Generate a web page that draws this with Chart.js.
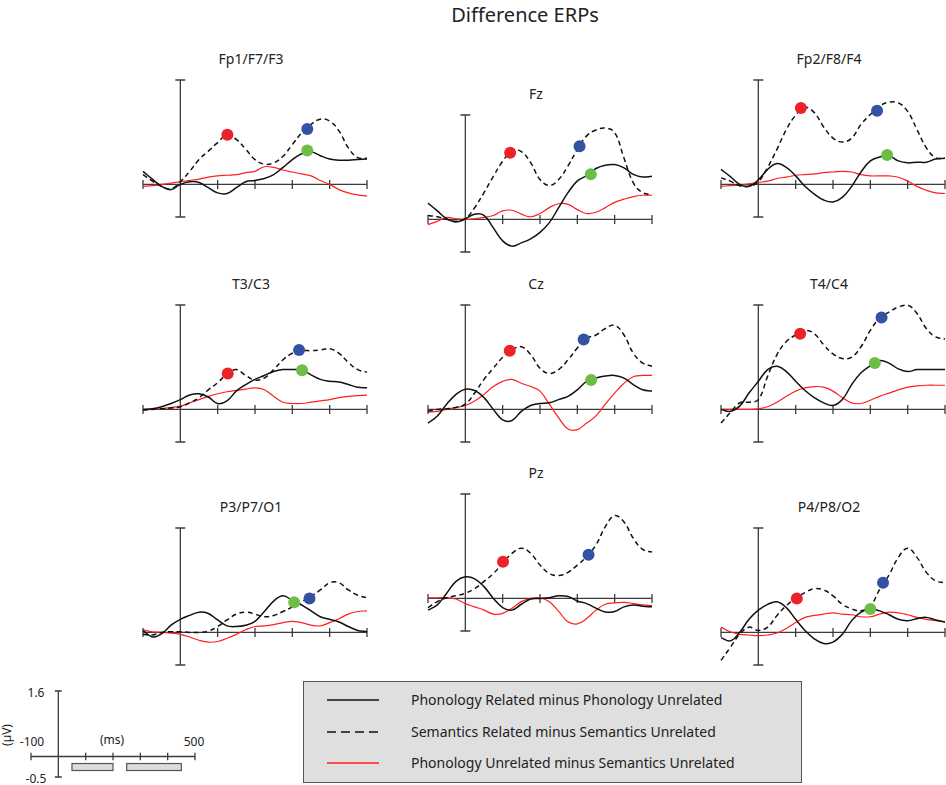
<!DOCTYPE html>
<html>
<head>
<meta charset="utf-8">
<script src="https://cdn.jsdelivr.net/npm/chart.js@4.4.0/dist/chart.umd.min.js"></script>
<style>
  body { margin: 0; background: #fff; font-family: "Noto Sans", sans-serif; color: #222; }
  #page { position: relative; width: 946px; height: 785px; overflow: hidden; }
  canvas { position: absolute; }
  .lbl { position: absolute; transform: translate(-50%, -50%); white-space: nowrap; }
  .title { font-size: 20px; }
  .ptitle { font-size: 14px; }
  .small { font-size: 12px; }
  #legend { position: absolute; left: 303px; top: 681px; width: 499px; height: 102px;
            background: #dfdfdf; border: 1px solid #555; box-sizing: border-box; }
  #legend .row { position: absolute; left: 0; height: 20px; font-size: 14px; }
  #legend svg { position: absolute; left: 23px; top: 4px; }
  #legend span { position: absolute; left: 107px; top: 0; line-height: 20px; white-space: nowrap; }
</style>
</head>
<body>
<div id="page">
  <div class="lbl title" style="left:525px; top:14px;">Difference ERPs</div>

  <div id="legend">
    <div class="row" style="top:8px;">
      <svg width="52" height="12"><line x1="0" y1="6" x2="52" y2="6" stroke="#111" stroke-width="1.6"/></svg>
      <span>Phonology Related minus Phonology Unrelated</span>
    </div>
    <div class="row" style="top:40px;">
      <svg width="52" height="12"><line x1="0" y1="6" x2="52" y2="6" stroke="#111" stroke-width="1.6" stroke-dasharray="9 5"/></svg>
      <span>Semantics Related minus Semantics Unrelated</span>
    </div>
    <div class="row" style="top:71px;">
      <svg width="52" height="12"><line x1="0" y1="6" x2="52" y2="6" stroke="#ff1f1f" stroke-width="1.4"/></svg>
      <span>Phonology Unrelated minus Semantics Unrelated</span>
    </div>
  </div>

  <div class="lbl small" style="left:36px; top:692px;">1.6</div>
  <div class="lbl small" style="left:36px; top:778px;">-0.5</div>
  <div class="lbl small" style="left:32px; top:741px;">-100</div>
  <div class="lbl small" style="left:112px; top:739px;">(ms)</div>
  <div class="lbl small" style="left:194px; top:741px;">500</div>
  <div class="lbl small" style="left:6px; top:735px; transform: translate(-50%, -50%) rotate(-90deg);">(µV)</div>
</div>

<script>
// time samples (ms) and axis ticks
const times = [-100, -75, -50, -25, 0, 25, 50, 75, 100, 125, 150, 175, 200,
               225, 250, 275, 300, 325, 350, 375, 400, 425, 450, 475, 500];
const timeTicks = [-100, 0, 100, 200, 300, 400, 500];
const voltMin = -0.5;
const voltMax = 1.6;
const analysisWindows = [[50, 200], [250, 450]];

// phon = Phonology Related minus Phonology Unrelated (solid)
// sem  = Semantics Related minus Semantics Unrelated (dashed)
// diff = Phonology Unrelated minus Semantics Unrelated (red)
const fp1Phon = [0.2, 0.08, -0.03, -0.08, 0, 0.04, 0.03, -0.05, -0.13, -0.14, -0.05, 0.04, 0.06, 0.09, 0.15, 0.26, 0.38, 0.47, 0.5, 0.44, 0.39, 0.37, 0.37, 0.38, 0.39];
const fp1Sem  = [0.15, 0.05, -0.03, -0.07, 0.04, 0.2, 0.38, 0.51, 0.64, 0.76, 0.69, 0.54, 0.38, 0.31, 0.33, 0.43, 0.61, 0.79, 0.92, 1.0, 0.97, 0.82, 0.56, 0.41, 0.4];
const fp1Diff = [-0.03, -0.02, 0, 0.02, 0.04, 0.06, 0.08, 0.11, 0.13, 0.14, 0.15, 0.18, 0.2, 0.27, 0.26, 0.22, 0.19, 0.16, 0.13, 0.06, 0, -0.08, -0.13, -0.16, -0.18];
const fp1DotT = [126, 340, 340];
const fp1DotV = [0.76, 0.85, 0.52];
const fp1DotKind = ['red', 'blue', 'green'];

const fzPhon = [0.25, 0.13, 0.01, -0.04, 0.01, 0.08, 0.06, -0.13, -0.33, -0.41, -0.36, -0.3, -0.2, -0.05, 0.18, 0.41, 0.59, 0.67, 0.78, 0.83, 0.84, 0.79, 0.69, 0.65, 0.66];
const fzSem  = [0.06, 0.04, 0, -0.03, 0.01, 0.18, 0.41, 0.66, 0.89, 1.05, 1.04, 0.87, 0.61, 0.52, 0.61, 0.82, 1.07, 1.28, 1.37, 1.4, 1.33, 0.94, 0.56, 0.41, 0.38];
const fzDiff = [-0.08, -0.03, 0.03, 0.01, 0, 0.01, 0.03, 0.06, 0.13, 0.14, 0.08, 0.04, 0.09, 0.18, 0.24, 0.23, 0.15, 0.09, 0.11, 0.18, 0.26, 0.31, 0.35, 0.37, 0.37];
const fzDotT = [120, 306, 336];
const fzDotV = [1.02, 1.12, 0.69];
const fzDotKind = ['red', 'blue', 'green'];

const fp2Phon = [0.23, 0.12, 0, -0.03, 0.07, 0.23, 0.32, 0.26, 0.13, -0.03, -0.15, -0.24, -0.27, -0.2, -0.03, 0.19, 0.36, 0.42, 0.44, 0.36, 0.33, 0.34, 0.34, 0.39, 0.4];
const fp2Sem  = [0.1, 0.05, -0.02, -0.03, 0.04, 0.26, 0.54, 0.84, 1.06, 1.18, 1.1, 0.88, 0.71, 0.65, 0.71, 0.92, 1.07, 1.2, 1.26, 1.25, 1.12, 0.84, 0.56, 0.41, 0.4];
const fp2Diff = [-0.03, -0.02, -0.01, 0.01, 0.03, 0.05, 0.09, 0.11, 0.14, 0.15, 0.16, 0.18, 0.19, 0.2, 0.19, 0.15, 0.13, 0.13, 0.13, 0.11, 0.05, -0.03, -0.09, -0.13, -0.14];
const fp2DotT = [114, 318, 345];
const fp2DotV = [1.17, 1.13, 0.45];
const fp2DotKind = ['red', 'blue', 'green'];

const t3Phon = [0, 0.01, 0.04, 0.09, 0.15, 0.22, 0.24, 0.19, 0.09, 0.13, 0.28, 0.38, 0.46, 0.52, 0.58, 0.61, 0.61, 0.6, 0.53, 0.46, 0.43, 0.42, 0.38, 0.34, 0.33];
const t3Sem  = [-0.01, 0, 0.01, 0.02, 0.04, 0.1, 0.18, 0.3, 0.41, 0.54, 0.61, 0.52, 0.45, 0.48, 0.61, 0.76, 0.86, 0.9, 0.9, 0.91, 0.93, 0.86, 0.72, 0.61, 0.57];
const t3Diff = [-0.01, 0, 0.01, 0.03, 0.05, 0.1, 0.15, 0.2, 0.24, 0.27, 0.29, 0.31, 0.33, 0.3, 0.2, 0.11, 0.09, 0.09, 0.11, 0.13, 0.15, 0.18, 0.2, 0.21, 0.22];
const t3DotT = [127, 318, 326];
const t3DotV = [0.55, 0.91, 0.6];
const t3DotKind = ['red', 'blue', 'green'];

const czPhon = [-0.21, -0.1, 0.08, 0.23, 0.31, 0.29, 0.18, 0, -0.16, -0.17, -0.03, 0.06, 0.09, 0.1, 0.15, 0.2, 0.3, 0.43, 0.48, 0.51, 0.52, 0.48, 0.38, 0.3, 0.28];
const czSem  = [-0.03, 0, 0.01, 0.03, 0.08, 0.25, 0.46, 0.63, 0.8, 0.91, 0.96, 0.84, 0.63, 0.55, 0.61, 0.76, 0.94, 1.09, 1.14, 1.24, 1.29, 1.14, 0.86, 0.71, 0.66];
const czDiff = [-0.04, -0.03, 0, 0.03, 0.06, 0.13, 0.23, 0.35, 0.43, 0.46, 0.4, 0.35, 0.28, 0.08, -0.13, -0.3, -0.31, -0.21, -0.1, 0.08, 0.25, 0.4, 0.5, 0.52, 0.52];
const czDotT = [119, 317, 337];
const czDotV = [0.9, 1.07, 0.45];
const czDotKind = ['red', 'blue', 'green'];

const t4Phon = [0, -0.03, 0.05, 0.25, 0.43, 0.61, 0.66, 0.58, 0.43, 0.29, 0.18, 0.1, 0.06, 0.15, 0.38, 0.56, 0.67, 0.75, 0.71, 0.62, 0.58, 0.61, 0.61, 0.61, 0.61];
const t4Sem  = [-0.21, -0.05, 0.1, 0.11, 0.15, 0.51, 0.84, 1.04, 1.14, 1.21, 1.16, 0.99, 0.85, 0.78, 0.8, 0.96, 1.21, 1.4, 1.49, 1.57, 1.6, 1.47, 1.24, 1.11, 1.08];
const t4Diff = [0, 0, 0, 0, 0.01, 0.04, 0.11, 0.2, 0.28, 0.33, 0.35, 0.34, 0.28, 0.18, 0.1, 0.09, 0.14, 0.2, 0.25, 0.3, 0.34, 0.36, 0.37, 0.37, 0.37];
const t4DotT = [112, 330, 312];
const t4DotV = [1.16, 1.41, 0.71];
const t4DotKind = ['red', 'blue', 'green'];

const p3Phon = [0.03, -0.07, -0.02, 0.11, 0.2, 0.26, 0.31, 0.29, 0.19, 0.1, 0.09, 0.11, 0.17, 0.32, 0.48, 0.56, 0.49, 0.42, 0.33, 0.24, 0.2, 0.16, 0.09, 0.03, 0.01];
const p3Sem  = [-0.03, -0.04, 0, 0.01, 0.01, 0, 0, 0.02, 0.09, 0.19, 0.28, 0.31, 0.28, 0.24, 0.26, 0.32, 0.39, 0.47, 0.55, 0.65, 0.76, 0.76, 0.65, 0.57, 0.53];
const p3Diff = [0.04, 0.01, 0, -0.01, -0.03, -0.07, -0.12, -0.15, -0.14, -0.09, -0.03, 0.04, 0.09, 0.1, 0.12, 0.15, 0.17, 0.15, 0.11, 0.1, 0.15, 0.21, 0.28, 0.32, 0.33];
const p3DotT = [305, 346];
const p3DotV = [0.46, 0.52];
const p3DotKind = ['green', 'blue'];

const pzPhon = [-0.18, -0.1, 0.08, 0.26, 0.33, 0.3, 0.18, 0, -0.14, -0.18, -0.09, -0.01, 0, 0.01, 0.04, 0.03, -0.04, -0.08, -0.15, -0.21, -0.2, -0.13, -0.1, -0.12, -0.13];
const pzSem  = [-0.14, -0.05, 0.01, 0.04, 0.08, 0.15, 0.26, 0.38, 0.54, 0.69, 0.77, 0.69, 0.51, 0.38, 0.35, 0.4, 0.51, 0.64, 0.82, 1.1, 1.27, 1.17, 0.92, 0.75, 0.71];
const pzDiff = [0.01, 0.01, 0.01, -0.01, -0.08, -0.13, -0.18, -0.24, -0.23, -0.15, -0.05, 0, 0.01, -0.05, -0.2, -0.36, -0.39, -0.31, -0.18, -0.09, -0.07, -0.06, -0.08, -0.1, -0.11];
const pzDotT = [101, 330];
const pzDotV = [0.56, 0.67];
const pzDotKind = ['red', 'blue'];

const p4Phon = [-0.08, -0.13, 0, 0.2, 0.34, 0.43, 0.47, 0.38, 0.2, 0.03, -0.1, -0.17, -0.15, -0.03, 0.18, 0.31, 0.36, 0.33, 0.27, 0.2, 0.18, 0.21, 0.23, 0.19, 0.16];
const p4Sem  = [-0.43, -0.23, -0.03, 0.08, 0.03, 0.08, 0.26, 0.41, 0.52, 0.61, 0.67, 0.65, 0.56, 0.43, 0.36, 0.33, 0.4, 0.66, 0.88, 1.15, 1.29, 1.15, 0.92, 0.79, 0.76];
const p4Diff = [0.08, 0.01, -0.03, -0.04, -0.05, -0.04, -0.01, 0.06, 0.15, 0.23, 0.26, 0.28, 0.3, 0.28, 0.27, 0.24, 0.24, 0.28, 0.31, 0.3, 0.27, 0.23, 0.2, 0.18, 0.16];
const p4DotT = [103, 334, 300];
const p4DotV = [0.52, 0.76, 0.36];
const p4DotKind = ['red', 'blue', 'green'];

const dotColors = { red: '#ec2227', blue: '#3551a4', green: '#6dbe46' };
const PAD = 10;
const AREA_W = 224, AREA_H = 137;

// axes drawn at t = 0 and V = 0, like the original figure
const erpAxes = {
  id: 'erpAxes',
  beforeDatasetsDraw(chart, args, opts) {
    const { ctx, scales: { x, y } } = chart;
    const y0 = y.getPixelForValue(0), x0 = x.getPixelForValue(0);
    const tick = opts.tick || 4.5, cap = opts.cap || 5;
    ctx.save();
    ctx.strokeStyle = '#3c3c3c';
    ctx.lineWidth = 1.3;
    ctx.beginPath();
    ctx.moveTo(x.getPixelForValue(timeTicks[0]), y0);
    ctx.lineTo(x.getPixelForValue(timeTicks[timeTicks.length - 1]), y0);
    timeTicks.forEach(t => {
      const px = x.getPixelForValue(t);
      ctx.moveTo(px, y0 - tick);
      ctx.lineTo(px, y0 + tick);
    });
    const yt = y.getPixelForValue(voltMax), yb = y.getPixelForValue(voltMin);
    ctx.moveTo(x0, yt); ctx.lineTo(x0, yb);
    ctx.moveTo(x0 - cap, yt); ctx.lineTo(x0 + cap, yt);
    ctx.moveTo(x0 - cap, yb); ctx.lineTo(x0 + cap, yb);
    ctx.stroke();
    if (opts.windows) {
      ctx.fillStyle = '#dcdcdc';
      ctx.strokeStyle = '#555';
      ctx.lineWidth = 1.2;
      opts.windows.forEach(([a, b]) => {
        const xa = x.getPixelForValue(a), xb = x.getPixelForValue(b);
        ctx.fillRect(xa, y0 + 7, xb - xa, 7);
        ctx.strokeRect(xa, y0 + 7, xb - xa, 7);
      });
    }
    ctx.restore();
  }
};

function xy(values) {
  return values.map((v, i) => ({ x: times[i], y: v }));
}

function addCanvas(left, top, w, h) {
  const c = document.createElement('canvas');
  c.width = w + 2 * PAD;
  c.height = h + 2 * PAD;
  c.style.left = (left - PAD) + 'px';
  c.style.top = (top - PAD) + 'px';
  document.getElementById('page').appendChild(c);
  return c;
}

function baseOptions(axesOpts) {
  return {
    responsive: false,
    animation: false,
    events: [],
    layout: { padding: PAD },
    plugins: { legend: { display: false }, tooltip: { enabled: false }, erpAxes: axesOpts },
    elements: { point: { radius: 0 }, line: { tension: 0.4 } },
    scales: {
      x: { type: 'linear', min: -100, max: 500, display: false },
      y: { type: 'linear', min: voltMin, max: voltMax, display: false }
    }
  };
}

function addPanel(name, left, top, phon, sem, diff, dotT, dotV, dotKind) {
  const canvas = addCanvas(left, top, AREA_W, AREA_H);
  const t = document.createElement('div');
  t.className = 'lbl ptitle';
  t.textContent = name;
  t.style.left = (left + 108) + 'px';
  t.style.top = (top - 22) + 'px';
  document.getElementById('page').appendChild(t);

  new Chart(canvas, {
    type: 'line',
    data: {
      datasets: [
        {
          type: 'scatter',
          data: dotT.map((tt, i) => ({ x: tt, y: dotV[i] })),
          pointRadius: 6,
          pointBorderWidth: 0,
          pointBackgroundColor: dotKind.map(k => dotColors[k]),
          showLine: false,
          clip: false
        },
        { data: xy(phon), borderColor: '#111', borderWidth: 1.5, clip: false },
        { data: xy(sem), borderColor: '#111', borderWidth: 1.5, borderDash: [5, 3.5], clip: false },
        { data: xy(diff), borderColor: '#ff1f1f', borderWidth: 1.2, clip: false }
      ]
    },
    options: baseOptions({}),
    plugins: [erpAxes]
  });
}

addPanel('Fp1/F7/F3', 143, 80, fp1Phon, fp1Sem, fp1Diff, fp1DotT, fp1DotV, fp1DotKind);
addPanel('Fz', 428, 115, fzPhon, fzSem, fzDiff, fzDotT, fzDotV, fzDotKind);
addPanel('Fp2/F8/F4', 721, 80, fp2Phon, fp2Sem, fp2Diff, fp2DotT, fp2DotV, fp2DotKind);
addPanel('T3/C3', 143, 305, t3Phon, t3Sem, t3Diff, t3DotT, t3DotV, t3DotKind);
addPanel('Cz', 428, 305, czPhon, czSem, czDiff, czDotT, czDotV, czDotKind);
addPanel('T4/C4', 721, 305, t4Phon, t4Sem, t4Diff, t4DotT, t4DotV, t4DotKind);
addPanel('P3/P7/O1', 143, 528, p3Phon, p3Sem, p3Diff, p3DotT, p3DotV, p3DotKind);
addPanel('Pz', 428, 494, pzPhon, pzSem, pzDiff, pzDotT, pzDotV, pzDotKind);
addPanel('P4/P8/O2', 721, 528, p4Phon, p4Sem, p4Diff, p4DotT, p4DotV, p4DotKind);

// scale key, lower left
const keyCanvas = addCanvas(31, 691, 164, 86);
new Chart(keyCanvas, {
  type: 'line',
  data: { datasets: [] },
  options: baseOptions({ tick: 3.7, cap: 3.5, windows: analysisWindows }),
  plugins: [erpAxes]
});
</script>
</body>
</html>
